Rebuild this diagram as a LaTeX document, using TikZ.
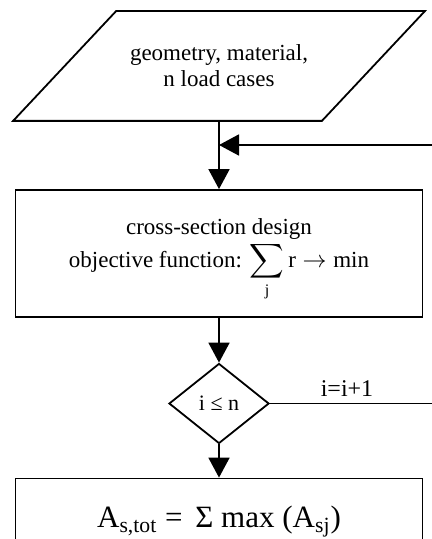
\documentclass[tikz,border=0pt]{standalone}
\usepackage{amsmath}
\usepackage{fontspec}
\setmainfont{Liberation Serif}
\usetikzlibrary{shapes.geometric}
\usetikzlibrary{arrows.meta}

\tikzset{
	flow/.style={-{Triangle[length=10pt,width=10.5pt]}},
	block/.style={draw, rectangle, minimum width=203.5pt, align=center},
	inputbox/.style={rectangle, minimum width=153.5pt, minimum height=54pt, align=center},
	decision/.style={draw, diamond, inner sep=0pt, minimum width=50pt, minimum height=40pt}
}

\begin{document}
\begin{tikzpicture}[x=0.5pt, y=-0.5pt, line width=0.9pt, font=\fontsize{11.5}{13}\selectfont]
	    		\useasboundingbox (0,0) rectangle (432,539);
	    		\clip (0,0) rectangle (432,539);
	    		\node[inputbox] (input) at (219,66) {geometry, material,\\n load cases};
	    		\draw ([xshift=25.75pt]input.north west) -- ([xshift=25.75pt]input.north east)
	    			-- ([xshift=-25.75pt]input.south east) -- ([xshift=-25.75pt]input.south west) -- cycle;
	    		\node[block, minimum height=63.5pt] (design) at (219,253.5)
	    			{\rule{0pt}{14pt}cross-section design\\[0.5pt] objective function: $\displaystyle\sum_{\mathrm{j}}\mathrm{r}\rightarrow\mathrm{min}$};
	    		\node[decision, font=\fontsize{11}{13}\selectfont] (check) at (219,403.5) {i ≤ n};
	    		\node[block, minimum height=43pt, font=\fontsize{15.5}{18}\selectfont] (total) at (219,521.5)
	    			{A\textsubscript{s,tot} = \,Σ max (A\textsubscript{sj})};
	    		\node[font=\fontsize{12}{14}\selectfont] (step) at (347,389) {i=i+1};
	    		\coordinate (loop) at (460,145);
	    		\coordinate (join) at (input.south |- loop);
	    		\draw[flow] (input.south) -- (design.north);
	    		\draw[flow] (design.south) -- (check.north);
	    		\draw[flow] (check.south) -- (total.north);
	    		\draw[flow] (check.east) -- (check.east -| loop) -- (loop) -- (join);
	    	\end{tikzpicture}
\end{document}
